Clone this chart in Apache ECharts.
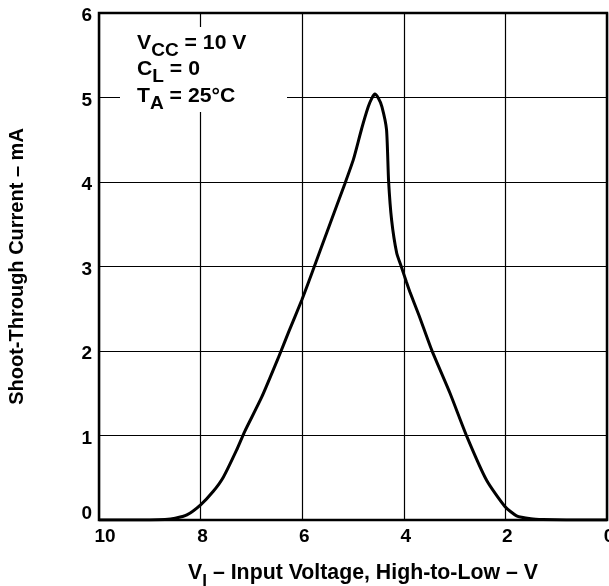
<!DOCTYPE html>
<html>
<head>
<meta charset="utf-8">
<script src="https://cdn.jsdelivr.net/npm/echarts@6/dist/echarts.min.js"></script>
<style>
  html, body { margin: 0; padding: 0; background: #fff; }
  #chart { width: 609px; height: 586px; }
</style>
</head>
<body>
<div id="chart"></div>
<script>
// input voltage (V), high-to-low sweep
var voltage = [10, 9.5, 9.0, 8.7, 8.5, 8.27, 8.0, 7.75, 7.55, 7.29, 7.13, 6.8, 6.47, 6.27, 6.01, 5.81,
               5.45, 5.16, 4.99, 4.83, 4.70, 4.63, 4.57, 4.50, 4.43, 4.34, 4.30, 4.24, 4.14, 4.05, 3.95,
               3.88, 3.7, 3.45, 3.09, 2.76, 2.37, 2.01, 1.78, 1.5, 1.26, 0.8, 0];
// shoot-through current (mA)
var current = [0, 0, 0, 0.005, 0.02, 0.06, 0.18, 0.34, 0.51, 0.83, 1.05, 1.45, 1.92, 2.22, 2.6, 2.92,
               3.51, 3.98, 4.27, 4.63, 4.89, 4.99, 5.04, 4.99, 4.89, 4.62, 4.02, 3.55, 3.16, 3.0, 2.82,
               2.70, 2.42, 2.01, 1.50, 0.99, 0.47, 0.16, 0.05, 0.015, 0.005, 0, 0];
var xTicks = [0, 2, 4, 6, 8, 10];
var yTicks = [0, 1, 2, 3, 4, 5, 6];

var FONT = '"Liberation Sans", Arial, sans-serif';

var chart = echarts.init(document.getElementById('chart'));

var points = [];
for (let i = 0; i < voltage.length; i++) {
    points.push([voltage[i], current[i]]);
}

// main text + lowered subscript (rich text tokens)
function richPair(mainSize, subSize) {
    return {
        m: { fontFamily: FONT, fontWeight: 'bold', fontSize: mainSize, color: '#000', fill: '#000',
             lineHeight: 26.5, height: 20, verticalAlign: 'top' },
        s: { fontFamily: FONT, fontWeight: 'bold', fontSize: subSize, color: '#000', fill: '#000',
             lineHeight: 26.5, height: 17, verticalAlign: 'bottom' }
    };
}

var tickFont = { fontFamily: FONT, fontWeight: 'bold', fontSize: 19, color: '#000' };

var option = {
    animation: false,
    backgroundColor: '#fff',
    grid: {
        left: 99,
        right: 2,
        top: 13,
        bottom: 66,
        outerBoundsMode: 'none',
        containLabel: false,
        show: true,
        borderColor: '#000',
        borderWidth: 2.5,
        backgroundColor: 'transparent'
    },
    xAxis: {
        type: 'value',
        min: xTicks[0],
        max: xTicks[xTicks.length - 1],
        interval: 2,
        inverse: true,
        name: '{m|V}{s|I}{m| \u2013 Input Voltage, High-to-Low \u2013 V}',
        nameLocation: 'middle',
        nameGap: 43,
        nameTextStyle: {
            padding: [0, 0, 0, 20],
            rich: richPair(21.3, 17)
        },
        axisLine: { show: false },
        axisTick: { show: false },
        axisLabel: {
            margin: 7,
            formatter: function (v) {
                return v === 10 ? '{e|' + v + '}' : '{t|' + v + '}';
            },
            rich: {
                t: Object.assign({ padding: [0, 0, 0, 4] }, tickFont),
                e: Object.assign({ padding: [0, 0, 0, 12] }, tickFont)
            }
        },
        splitLine: { show: true, lineStyle: { color: '#000', width: 1.2 } }
    },
    yAxis: {
        type: 'value',
        min: yTicks[0],
        max: yTicks[yTicks.length - 1],
        interval: 1,
        name: 'Shoot-Through Current \u2013 mA',
        nameLocation: 'middle',
        nameGap: 72,
        nameTextStyle: {
            fontFamily: FONT,
            fontWeight: 'bold',
            fontSize: 20,
            color: '#000'
        },
        axisLine: { show: false },
        axisTick: { show: false },
        axisLabel: {
            margin: 7,
            formatter: function (v) {
                return v === 0 ? '{z|' + v + '}' : '{t|' + v + '}';
            },
            rich: {
                t: Object.assign({ padding: [6, 0, 0, 0] }, tickFont),
                z: Object.assign({ padding: [0, 0, 12, 0] }, tickFont)
            }
        },
        splitLine: { show: true, lineStyle: { color: '#000', width: 1.2 } }
    },
    graphic: [
        {
            type: 'rect',
            left: 120,
            top: 27,
            shape: { width: 167, height: 85 },
            style: { fill: '#fff' },
            z: 1
        },
        {
            type: 'text',
            left: 137,
            top: 33,
            scaleX: 1.06,
            z: 2,
            style: {
                text: '{m|V}{s|CC}{m| = 10 V}\n{m|C}{s|L}{m| = 0}\n{m|T}{s|A}{m| = 25\u00B0C}',
                rich: richPair(20, 18)
            }
        }
    ],
    series: [
        {
            type: 'line',
            data: points,
            smooth: 0.2,
            showSymbol: false,
            lineStyle: { color: '#000', width: 3 },
            z: 3
        }
    ]
};

chart.setOption(option);
</script>
</body>
</html>
